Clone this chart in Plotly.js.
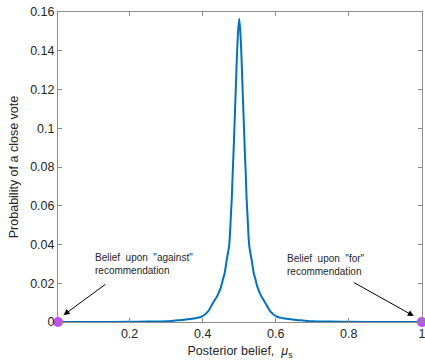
<!DOCTYPE html>
<html>
<head>
<meta charset="utf-8">
<script src="https://cdn.plot.ly/plotly-3.0.1.min.js"></script>
<style>html,body{margin:0;padding:0;background:#fff;}#chart{width:425px;height:364px;}</style>
</head>
<body>
<div id="chart"></div>
<script>
// Posterior belief (x) and probability of a close vote (y)
const belief = [0.004, 0.1, 0.2, 0.25, 0.3, 0.326, 0.35, 0.375, 0.397, 0.415, 0.428, 0.44, 0.45, 0.455, 0.46, 0.465, 0.4727, 0.4766, 0.48, 0.482, 0.485, 0.4876, 0.491, 0.494, 0.497, 0.5,
                0.503, 0.506, 0.509, 0.5124, 0.515, 0.518, 0.52, 0.5234, 0.5273, 0.535, 0.54, 0.545, 0.55, 0.56, 0.5717, 0.585, 0.603, 0.625, 0.65, 0.674, 0.7, 0.75, 0.8, 0.9, 1.0];
const closeVote = [0, 0.00003, 0.0001, 0.0002, 0.0004, 0.0008, 0.0012, 0.0018, 0.0028, 0.0055, 0.0098, 0.0135, 0.018, 0.0217, 0.025, 0.031, 0.0397, 0.0526, 0.065, 0.076, 0.09, 0.104, 0.122, 0.138, 0.150, 0.1565,
                   0.150, 0.138, 0.122, 0.104, 0.09, 0.076, 0.065, 0.0526, 0.0397, 0.031, 0.025, 0.0217, 0.018, 0.0135, 0.0098, 0.0055, 0.0028, 0.0018, 0.0012, 0.0008, 0.0004, 0.0002, 0.0001, 0.00003, 0];
// Recommendation beliefs (dots)
const recBelief = [0.004, 1.0];
const recProb = [0, 0];
// Tick labels
const xTicks = [0.2, 0.4, 0.6, 0.8, 1];
const xTickText = ['0.2', '0.4', '0.6', '0.8', '1'];
const yTicks = [0, 0.02, 0.04, 0.06, 0.08, 0.1, 0.12, 0.14, 0.16];
const yTickText = ['0', '0.02', '0.04', '0.06', '0.08', '0.1', '0.12', '0.14', '0.16'];
// Annotation texts
const noteAgainst = 'Belief  upon  "against"<br>recommendation';
const noteFor = 'Belief  upon  "for"<br>recommendation';

const font = 'Liberation Sans, Arial, Helvetica, sans-serif';
const axisCol = '#8c8c8c';

const traces = [
  {x: belief, y: closeVote, type: 'scatter', mode: 'lines',
   line: {color: '#0072BD', width: 2, shape: 'spline', smoothing: 0.7}, hoverinfo: 'skip'},
  {x: recBelief, y: recProb, type: 'scatter', mode: 'markers', cliponaxis: false,
   marker: {color: '#C24EF5', size: 10}, hoverinfo: 'skip'}
];

const layout = {
  width: 425, height: 364,
  margin: {l: 58, r: 3, t: 12, b: 42},
  paper_bgcolor: '#ffffff', plot_bgcolor: '#ffffff',
  showlegend: false,
  font: {family: font, size: 12, color: '#262626'},
  xaxis: {
    range: [0.004, 1.0004], tickvals: xTicks, ticktext: xTickText, ticklabeloverflow: 'allow',
    showgrid: false, zeroline: false, showline: true, linecolor: axisCol, linewidth: 1,
    mirror: 'ticks', ticks: 'inside', ticklen: 4, tickcolor: axisCol,
    tickfont: {family: font, size: 12.5, color: '#262626'},
    title: {text: 'Posterior belief,  <i>μ</i><sub>s</sub>', font: {family: font, size: 12.5, color: '#262626'}, standoff: 6}
  },
  yaxis: {
    range: [0, 0.16], tickvals: yTicks, ticktext: yTickText, ticklabeloverflow: 'allow',
    showgrid: false, zeroline: false, showline: true, linecolor: axisCol, linewidth: 1,
    mirror: 'ticks', ticks: 'inside', ticklen: 4, tickcolor: axisCol,
    tickfont: {family: font, size: 12.5, color: '#262626'},
    title: {text: 'Probability of a close vote', font: {family: font, size: 12.5, color: '#262626'}, standoff: 8}
  },
  annotations: [
    {x: 0.099, y: 0.030, xref: 'x', yref: 'y', text: noteAgainst, showarrow: false,
     xanchor: 'left', yanchor: 'middle', align: 'left', font: {family: font, size: 10, color: '#262626'}},
    {x: 0.626, y: 0.0293, xref: 'x', yref: 'y', text: noteFor, showarrow: false,
     xanchor: 'left', yanchor: 'middle', align: 'left', font: {family: font, size: 10, color: '#262626'}},
    {x: 0.0193, y: 0.0036, ax: 0.138, ay: 0.020, xref: 'x', yref: 'y', axref: 'x', ayref: 'y',
     text: '', showarrow: true, arrowhead: 2, arrowsize: 1.2, arrowwidth: 1, arrowcolor: '#000000'},
    {x: 0.978, y: 0.0031, ax: 0.81, ay: 0.0208, xref: 'x', yref: 'y', axref: 'x', ayref: 'y',
     text: '', showarrow: true, arrowhead: 2, arrowsize: 1.2, arrowwidth: 1, arrowcolor: '#000000'}
  ]
};

Plotly.newPlot('chart', traces, layout, {displayModeBar: false, staticPlot: true});
</script>
</body>
</html>
